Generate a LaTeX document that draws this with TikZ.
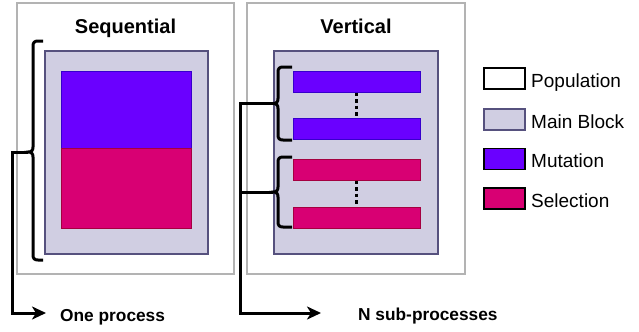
\documentclass[tikz,border=0pt]{standalone}
\usepackage{fontspec}
\setmainfont{Liberation Sans}
\usetikzlibrary{arrows.meta}
\definecolor{outerc}{HTML}{B3B3B3}
\definecolor{mainf}{HTML}{D0CEE2}
\definecolor{maind}{HTML}{56517E}
\definecolor{mutf}{HTML}{6A00FF}
\definecolor{mutd}{HTML}{3700CC}
\definecolor{self}{HTML}{D80073}
\definecolor{seld}{HTML}{A50040}
\tikzset{
  outerbox/.style={draw=outerc,line width=1.4bp,fill=white,inner sep=0,minimum width=#1},
  mainbox/.style={draw=maind,line width=1.3bp,fill=mainf,inner sep=0},
  mutbox/.style={draw=mutd,line width=1bp,fill=mutf,inner sep=0},
  selbox/.style={draw=seld,line width=1bp,fill=self,inner sep=0},
  bar/.style={minimum width=127bp,minimum height=21bp},
  title/.style={font=\fontsize{20bp}{24bp}\selectfont\bfseries,inner sep=0,anchor=base},
  blabel/.style={font=\fontsize{17.3bp}{20bp}\selectfont\bfseries,inner sep=0,anchor=base west},
  leglabel/.style={font=\fontsize{19bp}{22bp}\selectfont,inner sep=0,anchor=base west},
  legbox/.style={line width=1.5bp,inner sep=0,minimum width=41bp,minimum height=21bp},
  bracel/.style={draw=black,line width=3bp,line cap=butt},
  conn/.style={draw=black,line width=3bp},
  arr/.style={-{Stealth[length=14bp,width=13bp,inset=4bp]}},
  dotl/.style={draw=black,line width=3.2bp,dash pattern=on 3.5bp off 3bp}
}
\begin{document}
\begin{tikzpicture}[x=1bp,y=-1bp]
\useasboundingbox (0,0) rectangle (639,331);
% outer panels
\node[outerbox=217bp,minimum height=271bp] (seqp) at (125.5,138.5) {};
\node[outerbox=218bp,minimum height=271bp] (verp) at (356,138.5) {};
\node[title] (seqt) at (125.5,33) {Sequential};
\node[title] (vert) at (356,33) {Vertical};
% main blocks
\node[mainbox,minimum width=163bp,minimum height=203bp] (seqm) at (126.5,152.5) {};
\node[mainbox,minimum width=164bp,minimum height=203bp] (verm) at (356,152.5) {};
% sequential content
\node[mutbox,minimum width=130bp,minimum height=77bp] (seqmut) at (126,109.5) {};
\node[selbox,minimum width=130bp,minimum height=80bp] (seqsel) at (126,188) {};
% vertical content
\node[mutbox,bar] (vm1) at (356.5,81.5) {};
\node[mutbox,bar] (vm2) at (356.5,129) {};
\node[selbox,bar] (vs1) at (356.5,169.5) {};
\node[selbox,bar] (vs2) at (356.5,217.5) {};
\draw[dotl] (vm1.south) -- (vm2.north);
\draw[dotl] (vs1.south) -- (vs2.north);
% braces
\draw[bracel] (43,41) -- (38,41) .. controls (34.5,41) and (33,42.5) .. (33,46)
  -- (33,147) .. controls (33,150.5) and (31.5,152) .. (28,152)
  .. controls (31.5,152) and (33,153.5) .. (33,157)
  -- (33,255) .. controls (33,258.5) and (34.5,260) .. (38,260) -- (43,260);
\coordinate (lbtip) at (28,152);
\draw[bracel] (292,67) -- (283,67) .. controls (279.5,67) and (278,68.5) .. (278,72)
  -- (278,98.5) .. controls (278,102) and (276.5,103.5) .. (273,103.5)
  .. controls (276.5,103.5) and (278,105) .. (278,108.5)
  -- (278,135) .. controls (278,138.5) and (279.5,140) .. (283,140) -- (292,140);
\coordinate (rb1tip) at (273,103.5);
\draw[bracel] (292,157) -- (283,157) .. controls (279.5,157) and (278,158.5) .. (278,162)
  -- (278,187) .. controls (278,190.5) and (276.5,192) .. (273,192)
  .. controls (276.5,192) and (278,193.5) .. (278,197)
  -- (278,222) .. controls (278,225.5) and (279.5,227) .. (283,227) -- (292,227);
\coordinate (rb2tip) at (273,192);
% bottom labels
\node[blabel] (onep) at (60,321) {One process};
\node[blabel] (nsub) at (358,320.5) {N sub-processes};
\coordinate (onearr) at (46,313);
\coordinate (nsubarr) at (321,313);
% connectors
\draw[conn,arr] (lbtip) -- (12.5,152) |- (onearr);
\draw[conn,arr] (rb1tip) -- (240,103.5) |- (nsubarr);
\draw[conn] (rb2tip) -- (240,192);
% legend
\node[legbox,draw=black,fill=white] (lpop) at (504.5,78.5) {};
\node[legbox,draw=maind,fill=mainf] (lmain) at (504.5,119.5) {};
\node[legbox,draw=black,fill=mutf] (lmut) at (504.5,159) {};
\node[legbox,draw=black,fill=self] (lsel) at (504.5,198.5) {};
\node[leglabel] (tpop) at (531,87) {Population};
\node[leglabel] (tmain) at (531,128) {Main Block};
\node[leglabel] (tmut) at (531,167.5) {Mutation};
\node[leglabel] (tsel) at (531,207) {Selection};
\end{tikzpicture}
\end{document}
